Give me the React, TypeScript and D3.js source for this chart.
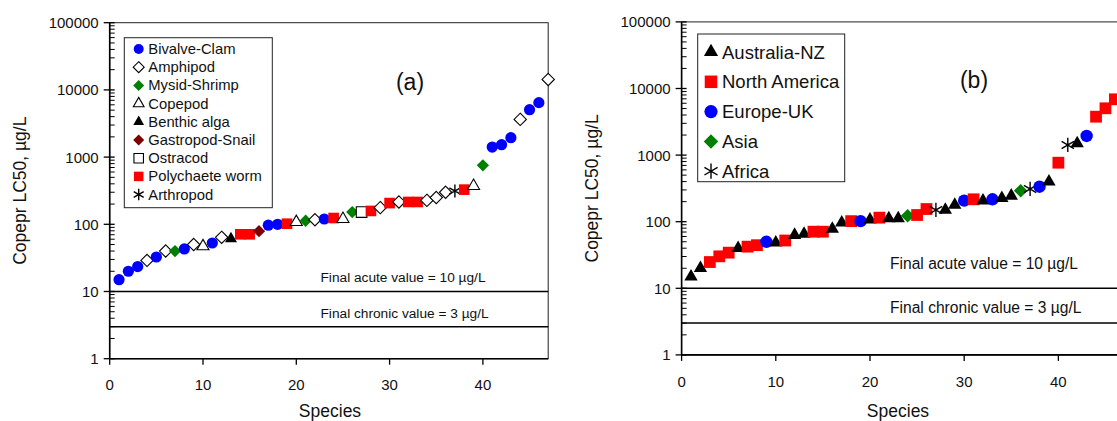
import React from 'react';
import * as d3 from 'd3';

// ---------- DATA ----------
const groupsA = ['Bivalve-Clam', 'Amphipod', 'Mysid-Shrimp', 'Copepod', 'Benthic alga', 'Gastropod-Snail', 'Ostracod', 'Polychaete worm', 'Arthropod'];
const groupIdxA = [0, 0, 0, 1, 0, 1, 2, 0, 1, 3, 0, 1, 4, 7, 7, 5, 0, 0, 7, 3, 2, 1, 0, 7, 3, 2, 6, 7, 1, 7, 1, 7, 7, 1, 1, 1, 8, 7, 3, 2, 0, 0, 0, 1, 0, 0, 1];
const valuesA = [15, 20, 23.5, 29, 32.6, 40, 40, 43, 50, 47, 52.7, 64, 61, 71, 71, 79, 97, 100, 102, 108, 113, 117, 120, 124, 120, 152, 152, 158, 177, 207, 215, 215, 215, 227, 250, 300, 313, 328, 372, 754, 1410, 1530, 1945, 3640, 5080, 6460, 14300];

const groupsB = ['Australia-NZ', 'North America', 'Europe-UK', 'Asia', 'Africa'];
const groupIdxB = [0, 0, 1, 1, 1, 0, 1, 1, 2, 0, 1, 0, 0, 1, 1, 0, 0, 1, 2, 0, 1, 0, 0, 3, 1, 1, 4, 0, 0, 2, 1, 0, 2, 0, 0, 3, 4, 2, 0, 1, 4, 0, 2, 1, 1, 1];
const valuesB = [14.9, 20, 24.8, 30.2, 34.3, 40, 42.2, 44.4, 49.9, 48.4, 52.2, 63, 65.3, 70.8, 70.8, 77.7, 96.6, 102, 102, 107, 115, 112, 112, 123, 126, 155, 150, 150, 178, 207, 217, 207, 217, 225, 245, 292, 310, 335, 399, 769, 1420, 1500, 1937, 3775, 5045, 6885];

const xTicks = [0, 10, 20, 30, 40];
const yTicks = [1, 10, 100, 1000, 10000, 100000];
const yTickLabels = ['1', '10', '100', '1000', '10000', '100000'];
const acuteValue = 10;
const chronicValue = 3;
const acuteLabel = 'Final acute value = 10 \u00b5g/L';
const chronicLabel = 'Final chronic value = 3 \u00b5g/L';
const yTitle = 'Copepr LC50, \u00b5g/L';
const xTitle = 'Species';

// ---------- STYLES ----------
type Mk = { shape: string; fill: string; stroke: string };
const markersA: Mk[] = [
  { shape: 'circle', fill: '#0000ff', stroke: 'none' },
  { shape: 'diamond', fill: '#ffffff', stroke: '#000' },
  { shape: 'diamond', fill: '#008000', stroke: 'none' },
  { shape: 'triangle', fill: '#ffffff', stroke: '#000' },
  { shape: 'triangle', fill: '#000000', stroke: 'none' },
  { shape: 'diamond', fill: '#800000', stroke: 'none' },
  { shape: 'square', fill: '#ffffff', stroke: '#000' },
  { shape: 'square', fill: '#ff0000', stroke: 'none' },
  { shape: 'asterisk', fill: 'none', stroke: '#000' },
];
const markersB: Mk[] = [
  { shape: 'triangle', fill: '#000000', stroke: 'none' },
  { shape: 'square', fill: '#ff0000', stroke: 'none' },
  { shape: 'circle', fill: '#0000ff', stroke: 'none' },
  { shape: 'diamond', fill: '#008000', stroke: 'none' },
  { shape: 'asterisk', fill: 'none', stroke: '#000' },
];

function symPath(shape: string, s: number): string {
  if (shape === 'circle') {
    const p = d3.path();
    p.arc(0, 0, s, 0, Math.PI * 2);
    p.closePath();
    return p.toString();
  }
  if (shape === 'square') {
    const h = s * 0.95;
    return `M${-h},${-h}L${h},${-h}L${h},${h}L${-h},${h}Z`;
  }
  if (shape === 'diamond') {
    const h = s * 1.1;
    return `M0,${-h}L${h},0L0,${h}L${-h},0Z`;
  }
  if (shape === 'triangle') {
    const side = s * 2.15;
    const top = side / Math.sqrt(3);
    const bot = side / (2 * Math.sqrt(3));
    return `M0,${-top}L${side / 2},${bot}L${-side / 2},${bot}Z`;
  }
  const r = s * 1.15;
  let d = `M0,${-r}L0,${r}`;
  [30, 150].forEach((a) => {
    const rad = (a * Math.PI) / 180;
    const dx = Math.cos(rad) * r;
    const dy = Math.sin(rad) * r;
    d += `M${-dx},${-dy}L${dx},${dy}`;
  });
  return d;
}

const Marker = ({ mk, x, y, s }: { mk: Mk; x: number; y: number; s: number }) => (
  <path
    d={symPath(mk.shape, s)}
    transform={`translate(${x},${y})`}
    fill={mk.fill}
    stroke={mk.stroke}
    strokeWidth={mk.shape === 'asterisk' ? 1.4 : 1.1}
  />
);

type PanelCfg = {
  x0: number; x1: number; yBot: number; yTop: number;
  values: number[]; groupIdx: number[]; groups: string[]; markers: Mk[];
  mSize: number; tickFont: number; titleFont: number; noteFont: number; noteX: number;
  acuteDy: number; chronicDy: number; yTitleX: number; xTitleX: number; xTitleY: number; xTickY: number;
  tag: string; tagX: number; tagY: number;
  legend: { x: number; y: number; w: number; h: number; row0: number; dy: number; symX: number; textX: number; font: number; mSize: number };
};

const Panel = ({ c }: { c: PanelCfg }) => {
  const x = d3.scaleLinear().domain([0, 47]).range([c.x0, c.x1]);
  const y = d3.scaleLog().domain([1, 100000]).range([c.yBot, c.yTop]);
  const minor: number[] = [];
  for (let e = 0; e < 5; e++) for (let m = 2; m <= 9; m++) minor.push(m * Math.pow(10, e));
  const font = 'Liberation Sans, Arial, sans-serif';
  return (
    <g fontFamily={font}>
      <rect x={c.x0} y={c.yTop} width={c.x1 - c.x0} height={c.yBot - c.yTop} fill="none" stroke="#222" strokeWidth={1} />
      <line x1={c.x0} x2={c.x1} y1={y(acuteValue)} y2={y(acuteValue)} stroke="#000" strokeWidth={1.5} />
      <line x1={c.x0} x2={c.x1} y1={y(chronicValue)} y2={y(chronicValue)} stroke="#000" strokeWidth={1.5} />
      <text x={c.noteX} y={y(acuteValue) + c.acuteDy} fontSize={c.noteFont} fill="#111">{acuteLabel}</text>
      <text x={c.noteX} y={y(chronicValue) + c.chronicDy} fontSize={c.noteFont} fill="#111">{chronicLabel}</text>
      <line x1={c.x0} x2={c.x0} y1={c.yTop} y2={c.yBot} stroke="#000" strokeWidth={1.6} />
      <line x1={c.x0} x2={c.x1} y1={c.yBot} y2={c.yBot} stroke="#000" strokeWidth={1.6} />
      {yTicks.map((t, i) => (
        <g key={'yt' + i}>
          <line x1={c.x0 - 6} x2={c.x0 + 5} y1={y(t)} y2={y(t)} stroke="#000" strokeWidth={1.3} />
          <text x={c.x0 - 11} y={y(t)} textAnchor="end" dominantBaseline="central" fontSize={c.tickFont} fill="#111">{yTickLabels[i]}</text>
        </g>
      ))}
      {minor.map((t, i) => (
        <line key={'ym' + i} x1={c.x0} x2={c.x0 + 5} y1={y(t)} y2={y(t)} stroke="#000" strokeWidth={1} />
      ))}
      {xTicks.map((t, i) => (
        <g key={'xt' + i}>
          <line x1={x(t)} x2={x(t)} y1={c.yBot} y2={c.yBot + 6} stroke="#000" strokeWidth={1.3} />
          <text x={x(t)} y={c.xTickY} textAnchor="middle" dominantBaseline="central" fontSize={c.tickFont} fill="#111">{t}</text>
        </g>
      ))}
      <text x={c.xTitleX} y={c.xTitleY} textAnchor="middle" dominantBaseline="central" fontSize={c.titleFont} fill="#111">{xTitle}</text>
      <text transform={`translate(${c.yTitleX},${(c.yTop + c.yBot) / 2}) rotate(-90)`} textAnchor="middle" dominantBaseline="central" fontSize={c.titleFont} fill="#111">{yTitle}</text>
      {c.values.map((v, i) => (
        <Marker key={'p' + i} mk={c.markers[c.groupIdx[i]]} x={x(i + 1)} y={y(v)} s={c.mSize} />
      ))}
      <rect x={c.legend.x} y={c.legend.y} width={c.legend.w} height={c.legend.h} fill="#fff" stroke="#222" strokeWidth={1} />
      {c.groups.map((g, i) => (
        <g key={'lg' + i}>
          <Marker mk={c.markers[i]} x={c.legend.symX} y={c.legend.row0 + i * c.legend.dy} s={c.legend.mSize} />
          <text x={c.legend.textX} y={c.legend.row0 + i * c.legend.dy} dominantBaseline="central" fontSize={c.legend.font} fill="#111">{g}</text>
        </g>
      ))}
      <text x={c.tagX} y={c.tagY} textAnchor="middle" dominantBaseline="central" fontSize={23} fill="#111">{c.tag}</text>
    </g>
  );
};

const cfgA: PanelCfg = {
  x0: 109.7, x1: 548.2, yBot: 358.7, yTop: 22.7,
  values: valuesA, groupIdx: groupIdxA, groups: groupsA, markers: markersA,
  mSize: 5.6, tickFont: 15, titleFont: 17.5, noteFont: 13.7, noteX: 320.5, acuteDy: -9.5, chronicDy: -8.5,
  yTitleX: 20, xTitleX: 330, xTitleY: 411, xTickY: 384,
  tag: '(a)', tagX: 410, tagY: 82,
  legend: { x: 124.3, y: 37.7, w: 148, h: 170, row0: 49, dy: 18.2, symX: 138.7, textX: 148.3, font: 14.8, mSize: 5 },
};
const cfgB: PanelCfg = {
  x0: 681.6, x1: 1124.3, yBot: 354.9, yTop: 21.9,
  values: valuesB, groupIdx: groupIdxB, groups: groupsB, markers: markersB,
  mSize: 6.2, tickFont: 15, titleFont: 17.5, noteFont: 15.6, noteX: 890, acuteDy: -19, chronicDy: -10,
  yTitleX: 592, xTitleX: 898, xTitleY: 411, xTickY: 381,
  tag: '(b)', tagX: 974, tagY: 80,
  legend: { x: 697.7, y: 34, w: 147, h: 147.7, row0: 52, dy: 29.8, symX: 711, textX: 722, font: 18.5, mSize: 6.6 },
};

export default function App() {
  return (
    <svg width={1117} height={421} style={{ position: 'absolute', left: 0, top: 0, background: '#fff' }}>
      <rect x={0} y={0} width={1117} height={421} fill="#fff" />
      <Panel c={cfgA} />
      <Panel c={cfgB} />
    </svg>
  );
}
